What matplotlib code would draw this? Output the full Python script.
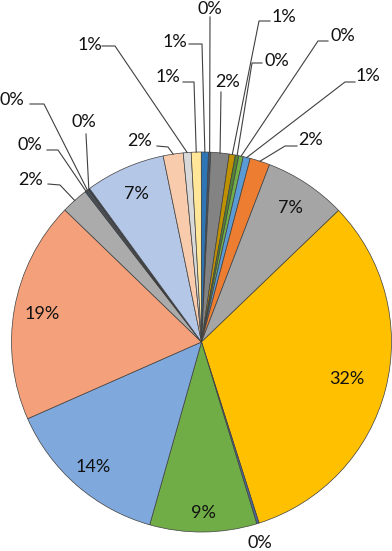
import numpy as np
import matplotlib
matplotlib.use("Agg")
import matplotlib.pyplot as plt

# ---- data (percent shares, clockwise from top) ----
values = [0.2, 1.55, 0.52, 0.3, 0.38, 0.6, 1.7, 7.0, 32.3, 0.2, 9.1, 14.0,
          18.85, 2.3, 0.15, 0.15, 0.15, 6.8, 1.7, 0.67, 0.85, 0.6]
colors = ["#44546A", "#838383", "#BF9000", "#548235", "#70AD47", "#5B9BD5",
          "#ED7D31", "#A5A5A5", "#FFC000", "#4A6A9C", "#70AD47", "#7FA8DC",
          "#F4A07A", "#ABABAB", "#44546A", "#595959", "#333F50", "#B4C7E7",
          "#F8CBAD", "#D9D9D9", "#FFE699", "#2E75B6"]
labels = [f"{int(np.floor(v + 0.5))}%" for v in values]

W, H = 392, 551
CX, CY, R = 201.5, 342, 190  # image pixel coords (y from top)

# label layout: index -> (text x, text y, leader polyline points) in image px
inside = {7: 0.845, 8: 0.79, 10: 0.9, 11: 0.87, 12: 0.85, 17: 0.85}
outside = {
    0: (210, 9, [(210, 17)]),
    1: (228, 82, [(221, 92)]),
    2: (284, 17, [(270, 21), (259, 21)]),
    3: (277, 61, [(262, 63), (252, 63)]),
    4: (343, 36, [(328, 41), (318, 41)]),
    5: (368, 76, [(355, 82), (345, 82)]),
    6: (311, 140, [(297, 146), (285, 146)]),
    9: (260, 543, []),
    13: (31, 180, [(48, 184), (60, 185)]),
    14: (30, 145, [(47, 150), (58, 150)]),
    15: (12, 100, [(30, 104), (44, 104)]),
    16: (84, 122, [(86, 134)]),
    18: (140, 141, [(157, 146), (168, 147)]),
    19: (90, 45, [(102, 46), (115, 46)]),
    20: (168, 77, [(183, 82), (194, 82)]),
    21: (175, 42, [(189, 44), (202, 44)]),
}

fig = plt.figure(figsize=(W / 100, H / 100), dpi=100)
ax = fig.add_axes([0, 0, 1, 1])
wedges, _ = ax.pie(values, colors=colors, startangle=90 - 2.1, counterclock=False,
                   center=(CX, H - CY), radius=R,
                   wedgeprops=dict(edgecolor="#404040", linewidth=0.5))
ax.set_xlim(0, W)
ax.set_ylim(0, H)
ax.set_aspect("equal")
ax.axis("off")

font = dict(family=["Lato", "DejaVu Sans"], fontsize=13, color="#111111")

for i, w in enumerate(wedges):
    mid = np.deg2rad((w.theta1 + w.theta2) / 2)
    if i in inside:
        f = inside[i]
        ax.text(CX + f * R * np.cos(mid), H - CY + f * R * np.sin(mid), labels[i],
                ha="center", va="center", **font)
    elif i in outside:
        tx, ty, pts = outside[i]
        ax.text(tx, H - ty, labels[i], ha="center", va="center", **font)
        if pts:
            xs = [p[0] for p in pts] + [CX + R * np.cos(mid)]
            ys = [H - p[1] for p in pts] + [H - CY + R * np.sin(mid)]
            ax.plot(xs, ys, color="#404040", lw=0.8)

fig.savefig("out.png", dpi=100)
